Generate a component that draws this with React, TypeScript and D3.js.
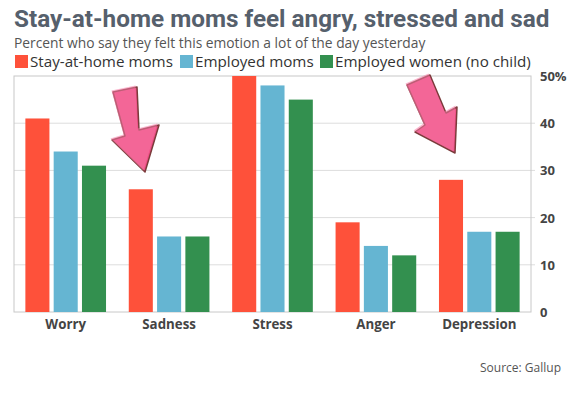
import React from "react";
import * as d3 from "d3";

const width = 569;
const height = 398;

const categories = ["Worry", "Sadness", "Stress", "Anger", "Depression"];
const seriesNames = ["Stay-at-home moms", "Employed moms", "Employed women (no child)"];
const stayAtHome = [41, 26, 50, 19, 28];
const employedMoms = [34, 16, 48, 14, 17];
const employedWomen = [31, 16, 45, 12, 17];
const yTicks = [0, 10, 20, 30, 40, 50];
const colors = ["#fe513a", "#65b5d2", "#33904f"];

const plot = { left: 14, right: 531, top: 76, bottom: 312 };

// pink arrow pointing down-right
const Arrow = ({ pts }: { pts: [number, number][] }) => {
  const d = "M" + pts.map((p) => p.join(",")).join("L") + "Z";
  return (
    <g>
      <path d={d} fill="#ef4f86" stroke="#7b3b3b" strokeWidth={1.5} strokeLinejoin="round" />
      <path d={d} fill="#f57aa5" transform="translate(-1.5,-1.5)" opacity={0.55} />
    </g>
  );
};

const App = () => {
  const series = [stayAtHome, employedMoms, employedWomen];
  const x0 = d3
    .scaleBand<string>()
    .domain(categories)
    .range([plot.left, plot.right])
    .paddingInner(0.22)
    .paddingOuter(0.11);
  const x1 = d3
    .scaleBand<number>()
    .domain([0, 1, 2])
    .range([0, x0.bandwidth()])
    .paddingInner(0.15);
  const y = d3.scaleLinear().domain([0, 50]).range([plot.bottom, plot.top]);

  const arrow1: [number, number][] = [
    [113, 92], [137, 87], [139, 130], [159, 125], [145, 172], [112, 140], [125, 136],
  ];
  const arrow2: [number, number][] = [
    [407, 85], [430, 75], [446, 113], [457, 107], [455, 153], [415, 132], [425, 125],
  ];
  const legendX = [15, 180, 320];

  return (
    <svg width={width} height={height} style={{ position: "absolute", left: 0, top: 0 }}>
      <rect width={width} height={height} fill="#fff" />
      <text x={14} y={27} fontFamily="Roboto" fontWeight={700} fontSize={24.3} fill="#56606c">
        Stay-at-home moms feel angry, stressed and sad
      </text>
      <text x={14} y={48} fontFamily="Open Sans" fontSize={13.8} fill="#555">
        Percent who say they felt this emotion a lot of the day yesterday
      </text>
      {seriesNames.map((s, i) => (
        <g key={s} transform={`translate(${legendX[i]},55)`}>
          <rect width={13} height={13} fill={colors[i]} />
          <text x={15} y={11.5} fontFamily="Open Sans" fontSize={15.2} fill="#333">
            {s}
          </text>
        </g>
      ))}

      {yTicks.slice(1, -1).map((t) => (
        <line key={t} x1={plot.left} x2={plot.right + 4} y1={y(t)} y2={y(t)} stroke="#ddd" />
      ))}
      <rect
        x={plot.left}
        y={plot.top}
        width={plot.right - plot.left}
        height={plot.bottom - plot.top}
        fill="none"
        stroke="#c8c8c8"
      />
      {yTicks.map((t) => (
        <text
          key={t}
          x={plot.right + 9}
          y={y(t) + 5}
          fontFamily="Open Sans"
          fontWeight={700}
          fontSize={13}
          fill="#444"
        >
          {t === 50 ? "50%" : t}
        </text>
      ))}

      {categories.map((c, ci) => (
        <g key={c} transform={`translate(${x0(c)},0)`}>
          {series.map((vals, si) => (
            <rect
              key={si}
              x={x1(si)}
              y={y(vals[ci])}
              width={x1.bandwidth()}
              height={plot.bottom - y(vals[ci])}
              fill={colors[si]}
            />
          ))}
          <text
            x={x0.bandwidth() / 2}
            y={329}
            textAnchor="middle"
            fontFamily="Open Sans"
            fontWeight={700}
            fontSize={13.3}
            fill="#444"
          >
            {c}
          </text>
        </g>
      ))}

      <Arrow pts={arrow1} />
      <Arrow pts={arrow2} />

      <text x={561} y={372} textAnchor="end" fontFamily="Open Sans" fontSize={12} fill="#555">
        Source: Gallup
      </text>
    </svg>
  );
};

export default App;
